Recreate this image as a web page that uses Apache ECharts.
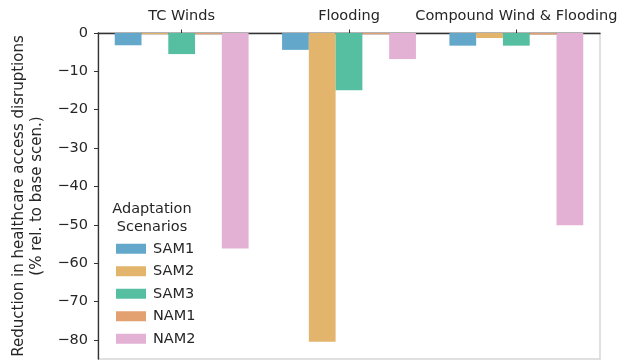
<!DOCTYPE html>
<html>
<head>
<meta charset="utf-8">
<script src="https://cdn.jsdelivr.net/npm/echarts@6/dist/echarts.min.js"></script>
<style>
html,body{margin:0;padding:0;background:#fff;}
#chart{width:627px;height:364px;}
</style>
</head>
<body>
<div id="chart"></div>
<script>
var categories = ['TC Winds', 'Flooding', 'Compound Wind & Flooding'];
var seriesNames = ['SAM1', 'SAM2', 'SAM3', 'NAM1', 'NAM2'];
var SAM1 = [-3.2, -4.4, -3.3];
var SAM2 = [-0.3, -80.5, -1.3];
var SAM3 = [-5.5, -14.9, -3.3];
var NAM1 = [-0.3, -0.3, -0.4];
var NAM2 = [-56.2, -6.8, -50.1];
var yTicks = [0, -10, -20, -30, -40, -50, -60, -70, -80];
var colors = ['#63a7cb', '#e3b56c', '#57bfa1', '#e3a071', '#e2b1d3'];

var values = [SAM1, SAM2, SAM3, NAM1, NAM2];
var font = 'DejaVu Sans';
var fs = 14.5;
var chart = echarts.init(document.getElementById('chart'), null, {renderer: 'canvas'});
var series = seriesNames.map(function (n, i) {
  return {
    name: n, type: 'bar', data: values[i],
    barGap: 0, barCategoryGap: '20%',
    itemStyle: {color: colors[i]},
    emphasis: {disabled: true}
  };
});
chart.setOption({
  animation: false,
  color: colors,
  grid: {left: 98, right: 27, top: 33, bottom: 5, show: true, borderColor: '#d6d6d6', borderWidth: 1.5, backgroundColor: 'transparent'},
  xAxis: {
    type: 'category', position: 'top', data: categories,
    axisLine: {show: true, lineStyle: {color: '#333', width: 1.3}},
    axisTick: {show: true, alignWithLabel: true, length: 3.5, lineStyle: {color: '#333'}},
    axisLabel: {fontFamily: font, fontSize: fs, color: '#262626', margin: 9, interval: 0},
    splitLine: {show: false}
  },
  yAxis: {
    type: 'value', min: -85, max: 0,
    name: 'Reduction in healthcare access disruptions\n(% rel. to base scen.)',
    nameLocation: 'middle', nameGap: 47, nameRotate: 90,
    nameTextStyle: {fontFamily: font, fontSize: 15, color: '#262626', lineHeight: 18.5, align: 'center'},
    axisLine: {show: true, lineStyle: {color: '#333', width: 1.3}},
    axisTick: {show: true, length: 4, lineStyle: {color: '#333'}, customValues: yTicks},
    axisLabel: {fontFamily: font, fontSize: fs, color: '#262626', margin: 10, customValues: yTicks,
      formatter: function (v) { return v < 0 ? '\u2212' + Math.abs(v) : String(v); }},
    splitLine: {show: false}
  },
  legend: {
    orient: 'vertical', left: 111, top: 235,
    itemWidth: 30, itemHeight: 10, itemGap: 5,
    icon: 'rect',
    textStyle: {fontFamily: font, fontSize: fs, color: '#262626', padding: [0, 0, 0, 2], lineHeight: 17.5},
    data: seriesNames,
    selectedMode: false
  },
  graphic: [{
    type: 'text', x: 152, y: 200,
    style: {text: 'Adaptation\nScenarios', fontFamily: font, fontSize: fs, fill: '#262626', align: 'center', verticalAlign: 'top', lineHeight: 18}
  }],
  series: series
});
</script>
</body>
</html>
